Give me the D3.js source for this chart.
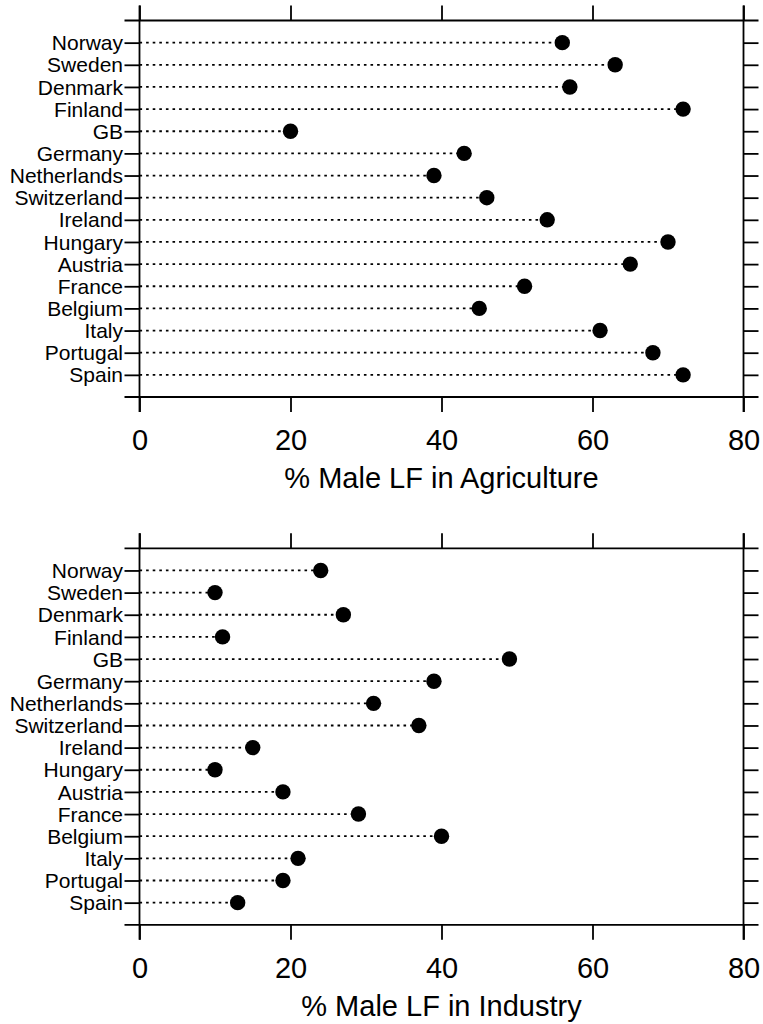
<!DOCTYPE html>
<html>
<head>
<meta charset="utf-8">
<script src="https://cdn.jsdelivr.net/npm/d3@7"></script>
<style>
  body { margin: 0; background: #fff; }
  svg { display: block; font-family: "Liberation Sans", Arial, sans-serif; }
</style>
</head>
<body>
<div id="chart"></div>
<script>
// data
const countries = ["Norway", "Sweden", "Denmark", "Finland", "GB", "Germany", "Netherlands",
  "Switzerland", "Ireland", "Hungary", "Austria", "France", "Belgium", "Italy", "Portugal", "Spain"];
const agriculture = [56, 63, 57, 72, 20, 43, 39, 46, 54, 70, 65, 51, 45, 61, 68, 72];
const industry = [24, 10, 27, 11, 49, 39, 31, 37, 15, 10, 19, 29, 40, 21, 19, 13];
const xTicks = [0, 20, 40, 60, 80];
const panels = [
  { title: "% Male LF in Agriculture", values: agriculture, top: 20.5 },
  { title: "% Male LF in Industry", values: industry, top: 548.3 }
];

const width = 763, height = 1024;
const left = 139.5, right = 743.5, panelH = 376.5, tick = 15;

let svg = d3.select("#chart")
  .append("svg")
  .attr("width", width)
  .attr("height", height);

let x = d3.scaleLinear().domain([0, 80]).range([left, right]);

panels.forEach(function (p) {
  let top = p.top, bottom = p.top + panelH;
  let y = d3.scalePoint().domain(countries).range([top, bottom]).padding(1);
  let g = svg.append("g");

  // dotted guide lines
  g.append("g")
    .selectAll("line")
    .data(countries)
    .join("line")
    .attr("x1", left)
    .attr("x2", (d, i) => x(p.values[i]))
    .attr("y1", d => y(d))
    .attr("y2", d => y(d))
    .attr("stroke", "#000")
    .attr("stroke-width", 1.8)
    .attr("stroke-dasharray", "2.6,4");

  // frame, horizontal lines reach out a tick length, vertical ones too
  [top, bottom].forEach(function (yy) {
    g.append("line")
      .attr("x1", left - tick).attr("x2", right + tick)
      .attr("y1", yy).attr("y2", yy)
      .attr("stroke", "#000").attr("stroke-width", 1.8);
  });
  [left, right].forEach(function (xx) {
    g.append("line")
      .attr("x1", xx).attr("x2", xx)
      .attr("y1", top - tick).attr("y2", bottom + tick)
      .attr("stroke", "#000").attr("stroke-width", 1.8);
  });

  // axes
  let axL = g.append("g")
    .attr("transform", `translate(${left},0)`)
    .call(d3.axisLeft(y).tickSize(tick).tickPadding(1.5));
  let axR = g.append("g")
    .attr("transform", `translate(${right},0)`)
    .call(d3.axisRight(y).tickSize(tick).tickFormat(""));
  let axT = g.append("g")
    .attr("transform", `translate(0,${top})`)
    .call(d3.axisTop(x).tickValues(xTicks).tickSize(tick).tickFormat(""));
  let axB = g.append("g")
    .attr("transform", `translate(0,${bottom})`)
    .call(d3.axisBottom(x).tickValues(xTicks).tickSize(tick).tickPadding(17.5));

  [axL, axR, axT, axB].forEach(function (a) {
    a.select(".domain").remove();
    a.selectAll(".tick line").attr("stroke", "#000").attr("stroke-width", 1.8);
    a.selectAll("text").attr("fill", "#000").style("font-family", "Liberation Sans, Arial, sans-serif");
  });
  axL.selectAll("text").style("font-size", "21px").attr("dy", "0.34em");
  axB.selectAll("text").style("font-size", "29px");

  // dots
  g.append("g")
    .selectAll("circle")
    .data(countries)
    .join("circle")
    .attr("cx", (d, i) => x(p.values[i]))
    .attr("cy", d => y(d))
    .attr("r", 7.7)
    .attr("fill", "#000");

  // axis title
  g.append("text")
    .attr("x", (left + right) / 2)
    .attr("y", bottom + 91)
    .attr("text-anchor", "middle")
    .style("font-size", "29px")
    .text(p.title);
});
</script>
</body>
</html>
